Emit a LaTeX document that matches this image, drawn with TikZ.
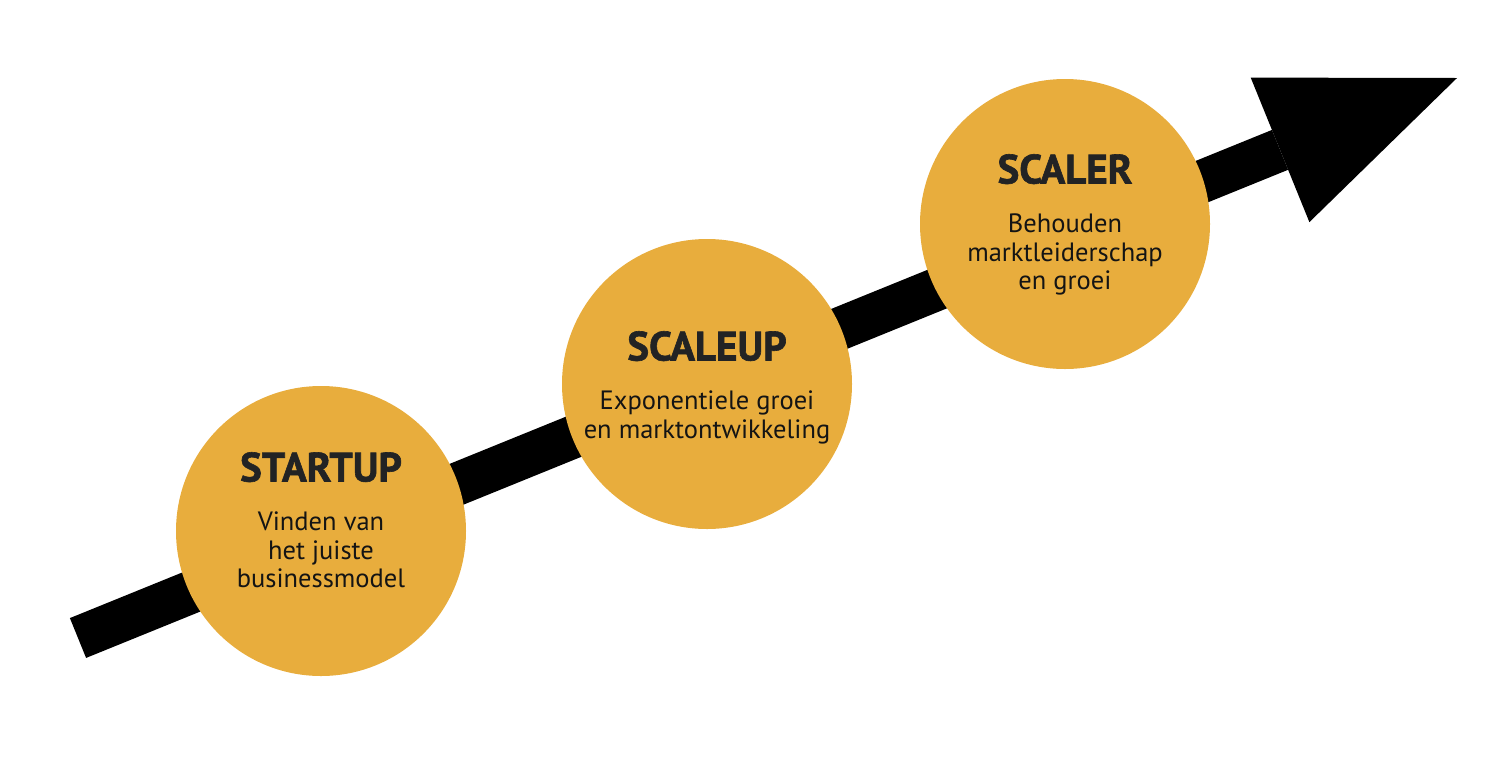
\documentclass[tikz,border=0pt]{standalone}
\usepackage{fontspec}
\setmainfont{PT Sans}[BoldFeatures={FakeBold=1.5}]
\usepackage{tikz}
\usetikzlibrary{arrows.meta}
\definecolor{mustard}{RGB}{232,173,61}
\definecolor{inktitle}{RGB}{34,35,36}
\definecolor{inkbody}{RGB}{20,20,20}
\tikzstyle{stage} = [circle, fill=mustard, minimum size=290pt, inner sep=0pt]
\tikzstyle{stagetext} = [anchor=north, align=center, inner sep=0pt, text=inkbody, font=\fontsize{26.5}{28.5}\selectfont]
\tikzstyle{bigarrow} = [line width=43pt, -{Triangle[length=191pt, width=156pt, line width=0pt]}]
\newcommand{\stagetitle}[1]{{\color{inktitle}\fontsize{41}{41}\selectfont\bfseries #1}}

\begin{document}
\begin{tikzpicture}[x=1pt, y=-1pt]
    \useasboundingbox (0,0) rectangle (1508,772);
    \coordinate (tail) at (78,638);
    \coordinate (tip) at (1457,78);
    \draw[bigarrow] (tail) -- (tip);

    \node[stage] (startup) at (321,531) {};
    \node[stage] (scaleup) at (707,384) {};
    \node[stage] (scaler) at (1065,224) {};

    \node[stagetext] (startuptext) at (321,452)
        {\stagetitle{STARTUP}\\[21pt]Vinden van\\het juiste\\businessmodel};
    \node[stagetext] (scaleuptext) at (707,331)
        {\stagetitle{SCALEUP}\\[21pt]Exponentiele groei\\en marktontwikkeling};
    \node[stagetext] (scalertext) at (1065,154)
        {\stagetitle{SCALER}\\[21pt]Behouden\\marktleiderschap\\en groei};
\end{tikzpicture}
\end{document}
